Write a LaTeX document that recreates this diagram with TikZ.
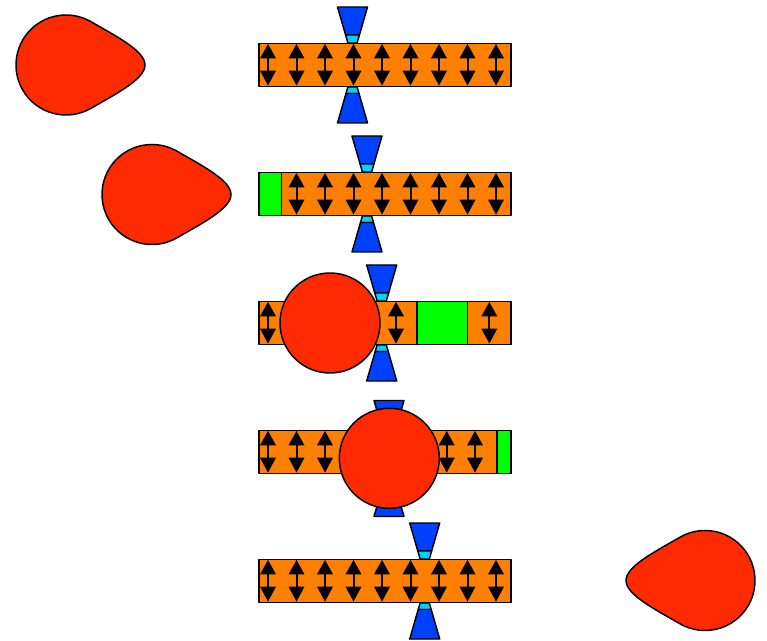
\documentclass[tikz,border=0pt]{standalone}
\definecolor{memb}{RGB}{255,127,0}
\definecolor{drop}{RGB}{255,42,0}
\definecolor{chblue}{RGB}{0,64,255}
\definecolor{chcyan}{RGB}{0,210,255}
\definecolor{grn}{RGB}{0,255,0}
\tikzset{
  outl/.style={draw=black, line width=1.1pt, line join=round},
  membrane/.style={outl, fill=memb},
  greencell/.style={outl, fill=grn},
  blob/.style={circle, outl, fill=drop, minimum size=75pt, inner sep=0pt},
  ud/.pic={
    \fill (-8,-6.7) -- (0,-21) -- (8,-6.7) -- cycle;
    \fill (-8,5.7) -- (0,20.5) -- (8,5.7) -- cycle;
    \draw[line width=1.5pt] (0,-8) -- (0,7);
  },
  channel/.pic={
    \filldraw[outl, fill=chblue] (-15,-58) -- (15,-58) -- (6.9,-30) -- (-6.9,-30) -- cycle;
    \filldraw[outl, fill=chcyan] (-6.9,-30) -- (6.9,-30) -- (4.6,-22) -- (-4.6,-22) -- cycle;
    \filldraw[outl, fill=chcyan] (-4.6,22) -- (4.6,22) -- (6.5,28.5) -- (-6.5,28.5) -- cycle;
    \filldraw[outl, fill=chblue] (-6.5,28.5) -- (6.5,28.5) -- (15,58) -- (-15,58) -- cycle;
  },
  teardrop/.pic={
    \filldraw[outl, fill=drop] (25,-43.3) .. controls (51,-28.3) and (79,-14) .. (79,0)
      .. controls (79,14) and (51,28.3) .. (25,43.3)
      arc[start angle=60, end angle=300, radius=50] -- cycle;
  }
}
\begin{document}
\begin{tikzpicture}[x=0.75pt,y=-0.75pt]
\useasboundingbox (0,0) rectangle (767,641);

% teardrops
\pic at (66,65) {teardrop};
\pic at (152,194.5) {teardrop};
\pic[xscale=-1] at (705,580.5) {teardrop};

% row 1
\draw[membrane] (259,43.5) rectangle (511,86.5);
\foreach \i in {0,...,8} \pic at ({268+28.5*\i},65) {ud};
\pic at (352.5,65) {channel};

% row 2
\draw[membrane] (259,172.5) rectangle (511,215.5);
\draw[greencell] (259,172.5) rectangle (281.7,215.5);
\foreach \i in {1,...,8} \pic at ({268+28.5*\i},194) {ud};
\pic at (367,194) {channel};

% row 3
\draw[membrane] (259,301.5) rectangle (511,344.5);
\draw[greencell] (417,301.5) rectangle (467.3,344.5);
\pic at (268,323) {ud};
\pic at (396,323) {ud};
\pic at (489.3,323) {ud};
\pic at (381.7,323) {channel};
\node[blob] (c3) at (330,323) {};

% row 4
\draw[membrane] (259,430.5) rectangle (511,473.5);
\draw[greencell] (497,430.5) rectangle (511,473.5);
\foreach \x in {268,296.5,325,446.7,475} \pic at (\x,452) {ud};
\pic at (389,458.5) {channel};
\node[blob] (c4) at (389.3,458.3) {};

% row 5
\draw[membrane] (259,559.5) rectangle (511,602.5);
\foreach \i in {0,...,8} \pic at ({268+28.5*\i},581) {ud};
\pic at (424.7,581) {channel};
\end{tikzpicture}
\end{document}
